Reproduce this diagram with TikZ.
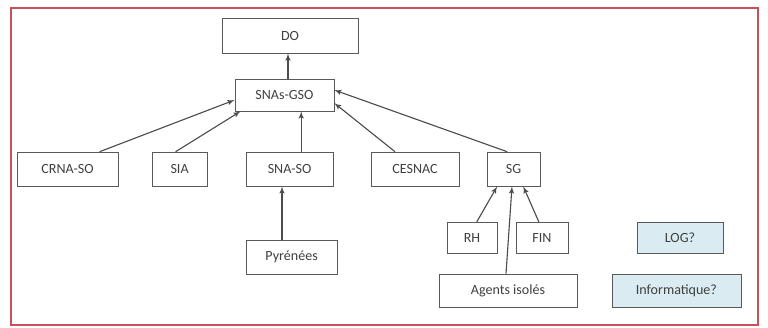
\documentclass[tikz,border=0pt]{standalone}
\usepackage{fontspec}
\setmainfont{Carlito}
\usetikzlibrary{arrows}
\definecolor{framered}{RGB}{200,80,90}
\definecolor{lightblue}{RGB}{218,236,242}
\tikzset{box/.style = {shape=rectangle,draw=black!65,text=black!75,inner sep=0pt,font=\normalsize}}
\tikzset{edge/.style = {->,> = latex',draw=black!70,thick}}

\begin{document}
\begin{tikzpicture}
          \useasboundingbox (0,0) rectangle (19.2,-8.2);
          \draw[framered,line width=1.3pt] (0.275,-0.2) rectangle (18.95,-8.125);

          \node[box,minimum width=3.4cm,minimum height=0.875cm] (do) at (7.25,-0.89) {DO};
          \node[box,minimum width=2.475cm,minimum height=0.8cm] (gso) at (7.11,-2.375) {SNAs-GSO};
          \node[box,minimum width=2.525cm,minimum height=0.85cm] (crna) at (1.69,-4.225) {CRNA-SO};
          \node[box,minimum width=1.375cm,minimum height=0.85cm] (sia) at (4.49,-4.225) {SIA};
          \node[box,minimum width=2.175cm,minimum height=0.85cm] (snaso) at (7.24,-4.225) {SNA-SO};
          \node[box,minimum width=2.2cm,minimum height=0.85cm] (cesnac) at (10.375,-4.225) {CESNAC};
          \node[box,minimum width=1.325cm,minimum height=0.85cm] (sg) at (12.84,-4.225) {SG};
          \node[box,minimum width=2.275cm,minimum height=0.85cm] (pyr) at (7.29,-6.425) {Pyrénées};
          \node[box,minimum width=1.25cm,minimum height=0.775cm] (rh) at (11.8,-5.94) {RH};
          \node[box,minimum width=1.3cm,minimum height=0.775cm] (fin) at (13.55,-5.94) {FIN};
          \node[box,minimum width=3.45cm,minimum height=0.825cm] (agents) at (12.7,-7.26) {Agents isolés};
          \node[box,fill=lightblue,minimum width=2.15cm,minimum height=0.775cm] (log) at (17.0,-5.94) {LOG?};
          \node[box,fill=lightblue,minimum width=3.225cm,minimum height=0.825cm] (info) at (16.91,-7.26) {Informatique?};

          \draw[edge] ([xshift=0.09cm]gso.north) to ([xshift=0.09cm]gso.north |- do.south);
          \draw[edge] ([xshift=0.8cm]crna.north) to ([yshift=-0.125cm]gso.west);
          \draw[edge] ([xshift=-0.1cm]sia.north) to ([xshift=0.15cm]gso.south west);
          \draw[edge] ([xshift=0.29cm]snaso.north) to ([xshift=0.29cm]snaso.north |- gso.south);
          \draw[edge] ([xshift=-0.5cm]cesnac.north) to ([yshift=-0.2cm]gso.east);
          \draw[edge] ([xshift=-0.16cm]sg.north) to ([yshift=0.125cm]gso.east);
          \draw[edge] ([xshift=-0.24cm]pyr.north) to ([xshift=-0.24cm]pyr.north |- snaso.south);
          \draw[edge] ([xshift=0.12cm]rh.north) to ([xshift=-0.41cm]sg.south);
          \draw[edge] ([xshift=-0.05cm]agents.north) to ([xshift=-0.04cm]sg.south);
          \draw[edge] ([xshift=-0.08cm]fin.north) to ([xshift=0.24cm]sg.south);
        \end{tikzpicture}
\end{document}
